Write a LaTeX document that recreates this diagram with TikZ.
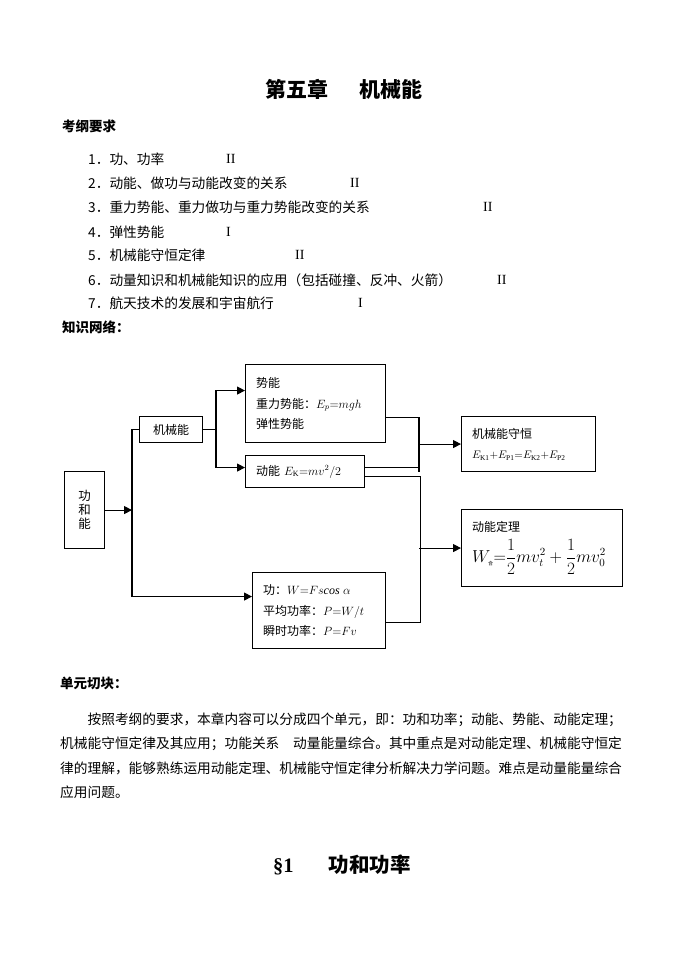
\documentclass[tikz,border=0pt]{standalone}
\usepackage{fontspec}
\usepackage{amsmath}
\setmainfont{Liberation Serif}
\newfontfamily\cjk{Noto Sans CJK SC}
\usetikzlibrary{arrows.meta,positioning}

\tikzstyle{kbox} = [rectangle, draw=black, line width=1.1pt, anchor=north west, inner xsep=10.5pt, inner ysep=0pt, align=left, font=\cjk\fontsize{12}{20.5}\selectfont]
\tikzstyle{arrow} = [line width=1.1pt, -{Triangle[length=8pt,width=8pt]}]
\tikzstyle{conn} = [line width=1.1pt]
\tikzstyle{listtext} = [anchor=west, inner sep=0pt, font=\cjk\fontsize{13.7}{16}\selectfont]
\tikzstyle{heading} = [anchor=west, inner sep=0pt, font=\cjk\bfseries\fontsize{13.5}{16}\selectfont]
\tikzstyle{grade} = [anchor=west, inner sep=0pt, font=\fontsize{14}{16}\selectfont]

\begin{document}
\begin{tikzpicture}[x=1pt, y=-1pt]
        \fill [white] (0,0) rectangle (687,971);
        \useasboundingbox (0,0) rectangle (687,971);

        \node (title) [inner sep=0pt, font=\cjk\bfseries\fontsize{21}{24}\selectfont] at (344,89) {第五章\hspace{32pt}机械能};
        \node (kgyq) [heading] at (62,126) {考纲要求};

        \node (req1) [listtext] at (88,159) {1．功、功率};
        \node (req2) [listtext] at (88,183) {2．动能、做功与动能改变的关系};
        \node (req3) [listtext] at (88,207) {3．重力势能、重力做功与重力势能改变的关系};
        \node (req4) [listtext] at (88,232) {4．弹性势能};
        \node (req5) [listtext] at (88,255) {5．机械能守恒定律};
        \node (req6) [listtext] at (88,280) {6．动量知识和机械能知识的应用（包括碰撞、反冲、火箭）};
        \node (req7) [listtext] at (88,303) {7．航天技术的发展和宇宙航行};

        \node (lv1) [grade] at (226,159) {II};
        \node (lv2) [grade] at (350,183) {II};
        \node (lv3) [grade] at (483,207) {II};
        \node (lv4) [grade] at (226,232) {I};
        \node (lv5) [grade] at (295,255) {II};
        \node (lv6) [grade] at (497,280) {II};
        \node (lv7) [grade] at (358,303) {I};

        \node (zswl) [heading] at (62,327) {知识网络：};

        \node (gnn) [kbox, align=center, text width=19pt, minimum height=77pt, font=\cjk\fontsize{12.5}{14}\selectfont] at (64,471) {功\\和\\能};
        \node (jxn) [kbox, align=center, text width=42pt, minimum height=26pt] at (139,416) {机械能};
        \node (shineng) [kbox, text width=119pt, minimum height=78pt] at (245,364) {势能\\重力势能：$E_p{=}mgh$\\弹性势能};
        \node (dongneng) [kbox, text width=98pt, minimum height=32pt] at (245,455) {动能 $E_{\mathrm{K}}{=}mv^2/2$};
        \node (gong) [kbox, text width=112pt, minimum height=76pt] at (252,572) {功：$W{=}Fs\mathit{cos}\;\alpha$\\平均功率：$P{=}W/t$\\瞬时功率：$P{=}Fv$};
        \node (shouheng) [kbox, text width=113pt, minimum height=55pt] at (461,416) {机械能守恒\\{\fontsize{10.5}{14}\selectfont $E_{\mathrm{K1}}{+}E_{\mathrm{P1}}{=}E_{\mathrm{K2}}{+}E_{\mathrm{P2}}$}};
        \node (dingli) [kbox, text width=140pt, minimum height=77pt] at (461,509) {动能定理\\[6pt]{\fontsize{16}{18}\selectfont $\displaystyle W_{\text{\cjk\tiny 合}}{=}\frac{1}{2}mv_t^2+\frac{1}{2}mv_0^2$}};

        \coordinate (lx) at (132,0);
        \coordinate (mx) at (216,0);
        \coordinate (rx) at (419,0);

        \draw [arrow] (gnn.east) -- (gnn.east -| lx);
        \draw [arrow] (jxn.west) -- (jxn.west -| lx) |- ([yshift=14pt]gong.west);
        \draw [conn] (jxn.east) -- (jxn.east -| mx);
        \draw [arrow] (jxn.east -| mx) |- ([yshift=13pt]shineng.west);
        \draw [arrow] (jxn.east -| mx) |- ([yshift=4pt]dongneng.west);

        \draw [conn] ([yshift=-14pt]shineng.east) -| (rx |- shouheng.south);
        \draw [conn] ([yshift=4pt]dongneng.east) -- ++(55,0);
        \draw [conn] ([yshift=-5pt]dongneng.east) -- ++(55,0) |- ([yshift=-12pt]gong.east);
        \draw [arrow] (shouheng.west -| rx) -- (shouheng.west);
        \draw [arrow] (dingli.west -| rx) -- (dingli.west);

        \node (dyqk) [heading] at (60,683) {单元切块：};
        \node (para1) [listtext] at (87.4,720) {按照考纲的要求，本章内容可以分成四个单元，即：功和功率；动能、势能、动能定理；};
        \node (para2) [listtext] at (60,744) {机械能守恒定律及其应用；功能关系　动量能量综合。其中重点是对动能定理、机械能守恒定};
        \node (para3) [listtext] at (60,768) {律的理解，能够熟练运用动能定理、机械能守恒定律分析解决力学问题。难点是动量能量综合};
        \node (para4) [listtext] at (60,792) {应用问题。};

        \node (sec) [anchor=west, inner sep=0pt, font=\bfseries\fontsize{20.5}{24}\selectfont] at (273,865) {§1\hspace{35pt}{\cjk 功和功率}};

\end{tikzpicture}
\end{document}
